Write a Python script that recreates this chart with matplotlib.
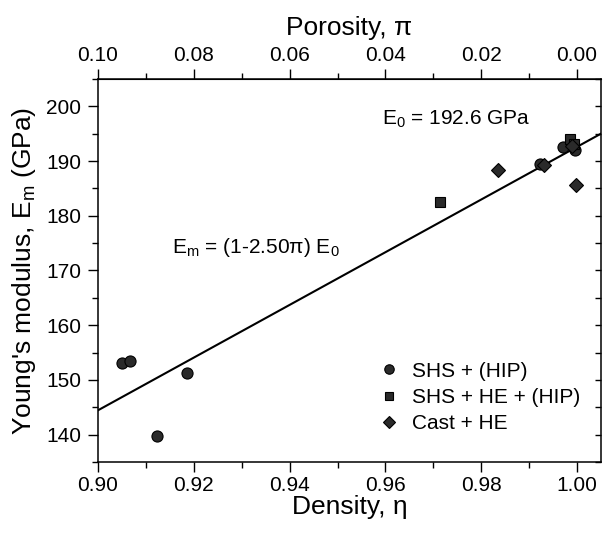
import numpy as np
import matplotlib
matplotlib.use("Agg")
import matplotlib.pyplot as plt

plt.rcParams['font.family'] = ['Liberation Sans', 'DejaVu Sans']
plt.rcParams['mathtext.fontset'] = 'custom'
plt.rcParams['mathtext.rm'] = 'Liberation Sans'
plt.rcParams['mathtext.it'] = 'Liberation Sans'

# Daten (Dichte, E-Modul in GPa)
shs_hip_x = [0.9051, 0.9067, 0.9124, 0.9185, 0.9923, 0.9970, 0.9995]
shs_hip_y = [153.1, 153.5, 139.8, 151.2, 189.5, 192.5, 192.1]

shs_he_hip_x = [0.9713, 0.9986, 0.9993]
shs_he_hip_y = [182.6, 194.1, 193.1]

cast_he_x = [0.9836, 0.9932, 0.9997, 0.9990]
cast_he_y = [188.3, 189.2, 185.7, 192.8]

E0 = 192.6
fit_x = np.array([0.90, 1.005])
fit_y = (1 - 2.50 * (1 - fit_x)) * E0

fig = plt.figure(figsize=(6.06, 5.33), dpi=100)
ax = fig.add_axes([0.1617, 0.1332, 0.83, 0.7186])

ax.plot(fit_x, fit_y, color='black', linewidth=1.5, zorder=2)

mk = dict(linestyle='none', color='#2a2a2a', markeredgecolor='black',
          markeredgewidth=0.8, zorder=3)
ax.plot(shs_hip_x, shs_hip_y, marker='o', markersize=8, label='SHS + (HIP)', **mk)
ax.plot(shs_he_hip_x, shs_he_hip_y, marker='s', markersize=7.5, label='SHS + HE + (HIP)', **mk)
ax.plot(cast_he_x, cast_he_y, marker='D', markersize=7, label='Cast + HE', **mk)

ax.set_xlim(0.90, 1.005)
ax.set_ylim(135, 205)
ax.set_xticks(np.arange(0.90, 1.001, 0.02))
ax.set_xticks(np.arange(0.91, 1.001, 0.02), minor=True)
ax.set_yticks(np.arange(140, 201, 10))
ax.set_yticks(np.arange(135, 206, 5), minor=True)
ax.set_xticklabels([f"{v:.2f}" for v in np.arange(0.90, 1.001, 0.02)])

ax.tick_params(axis='both', which='major', labelsize=15, direction='out',
               length=7, width=1, pad=3)
ax.tick_params(axis='both', which='minor', direction='out', length=4, width=1)
ax.tick_params(axis='y', which='both', right=True, pad=5)
ax.yaxis.set_tick_params(which='both', labelright=False)
for t in ax.yaxis.get_major_ticks() + ax.yaxis.get_minor_ticks():
    t.tick2line.set_marker(matplotlib.lines.TICKLEFT)
    t.tick2line.set_markersize(4)

for s in ax.spines.values():
    s.set_linewidth(1.1)

ax.set_xlabel('Density, η', fontsize=19, labelpad=0)
ax.set_ylabel('Young\'s modulus, E$_\\mathrm{m}$ (GPa)', fontsize=19, labelpad=6)

top = ax.secondary_xaxis('top', functions=(lambda d: 1 - d, lambda p: 1 - p))
top.set_xticks(np.arange(0.0, 0.101, 0.02))
top.set_xticks(np.arange(0.01, 0.10, 0.02), minor=True)
top.set_xticklabels([f"{v:.2f}" for v in np.arange(0.0, 0.101, 0.02)])
top.tick_params(which='major', labelsize=15, direction='out', length=7, width=1, pad=3)
top.tick_params(which='minor', direction='out', length=4, width=1)
top.set_xlabel('Porosity, π', fontsize=19, labelpad=8)

ax.text(0.9592, 197.7, 'E$_\\mathrm{0}$ = 192.6 GPa', fontsize=15, va='center', ha='left')
ax.text(0.9154, 174.2, 'E$_\\mathrm{m}$ = (1-2.50π) E$_\\mathrm{0}$', fontsize=15,
        va='center', ha='left')

ax.legend(loc='upper left', bbox_to_anchor=(0.521, 0.311), frameon=False,
          fontsize=15, handlelength=1.0, handletextpad=0.6, labelspacing=0.35,
          borderpad=0.4, markerscale=0.85)

fig.savefig('out.png', dpi=100)
